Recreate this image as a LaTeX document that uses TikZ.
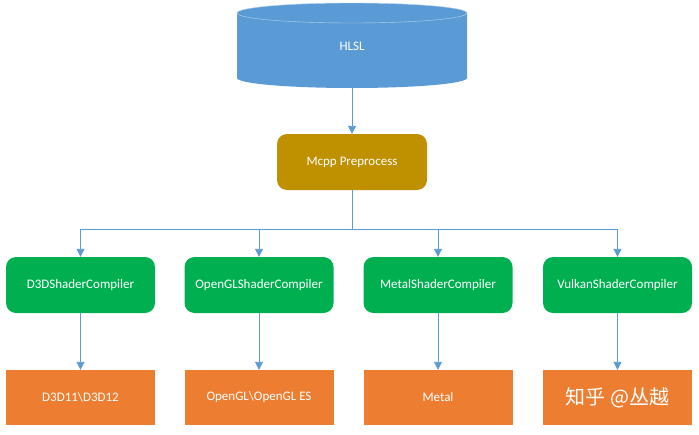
\documentclass[tikz,border=0pt]{standalone}
\usepackage{fontspec}
\setmainfont{Carlito}
\newfontfamily\cjkfont{Noto Sans CJK SC}
\usetikzlibrary{arrows.meta}

\definecolor{hlslblue}{HTML}{5B9BD5}
\definecolor{mcppgold}{HTML}{BF9000}
\definecolor{compgreen}{HTML}{00B050}
\definecolor{apiorange}{HTML}{ED7D31}
\definecolor{linkblue}{HTML}{5B9BD5}

\begin{document}
\begin{tikzpicture}[x=1pt,y=-1pt,
  box/.style={rounded corners=10pt,minimum width=149pt,minimum height=56pt,inner sep=0pt,text=white,font=\fontsize{13}{15}\selectfont},
  compiler/.style={box,fill=compgreen},
  api/.style={box,rounded corners=0pt,fill=apiorange,minimum height=55pt},
  link/.style={draw=linkblue,line width=0.9pt},
  arr/.style={link,-{Triangle[width=8pt,length=8pt]}}]

% white page
\fill [white] (0,0) rectangle (699,434);
\useasboundingbox (0,0) rectangle (699,434);

% HLSL cylinder
\fill [hlslblue] (237,13) -- (237,78) arc[start angle=180,end angle=360,x radius=115pt,y radius=10pt] -- (467,13) -- cycle;
\draw [white!55!hlslblue,fill=hlslblue,thin] (352,13) ellipse [x radius=115pt,y radius=10pt];
\node (hlsl) [text=white,font=\fontsize{13}{15}\selectfont] at (352,46) {HLSL};
\coordinate (hlslbot) at (352,88);

% preprocessor
\node (mcpp) [box,fill=mcppgold,minimum width=150pt] at (352,162) {Mcpp Preprocess};

% compilers
\node (d3d)    [compiler] at (80.5,285)  {D3DShaderCompiler};
\node (opengl) [compiler] at (259,285)   {OpenGLShaderCompiler};
\node (metal)  [compiler] at (438,285)   {MetalShaderCompiler};
\node (vulkan) [compiler] at (617.5,285) {VulkanShaderCompiler};

% target apis
\node (d3dapi)    [api] at (80.5,397.5)  {D3D11\textbackslash D3D12};
\node (openglapi) [api] at (259,397.5)   {OpenGL\textbackslash OpenGL ES};
\node (metalapi)  [api] at (438,397.5)   {Metal};
\node (vulkanapi) [api,font=\cjkfont\fontsize{20}{24}\selectfont] at (617.5,397.5) {知乎 @丛越};

% connectors
\draw [arr] (hlslbot) -- (mcpp.north);
\coordinate (split) at (352,229);
\draw [link] (mcpp.south) -- (split);
\foreach \c in {d3d,opengl,metal,vulkan}
  \draw [arr] (split) -| (\c.north);
\draw [arr] (d3d) -- (d3dapi);
\draw [arr] (opengl) -- (openglapi);
\draw [arr] (metal) -- (metalapi);
\draw [arr] (vulkan) -- (vulkanapi);

\end{tikzpicture}
\end{document}
